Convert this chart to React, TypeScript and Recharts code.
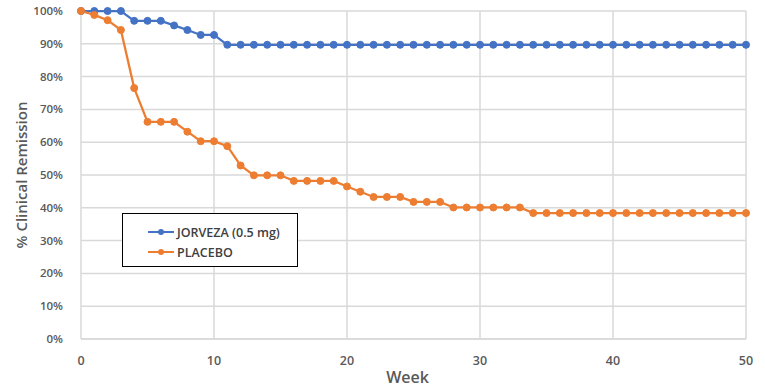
import React from "react";
import { LineChart, Line, XAxis, YAxis, CartesianGrid } from "recharts";

const weeks = Array.from({ length: 51 }, (_, i) => i);

const jorveza = [
  100, 100, 100, 100, 97, 97, 97, 95.6, 94.2, 92.7, 92.7, 89.7, 89.7, 89.7,
  89.7, 89.7, 89.7, 89.7, 89.7, 89.7, 89.7, 89.7, 89.7, 89.7, 89.7, 89.7, 89.7,
  89.7, 89.7, 89.7, 89.7, 89.7, 89.7, 89.7, 89.7, 89.7, 89.7, 89.7, 89.7, 89.7,
  89.7, 89.7, 89.7, 89.7, 89.7, 89.7, 89.7, 89.7, 89.7, 89.7, 89.7,
];

const placebo = [
  100, 98.8, 97.2, 94.2, 76.5, 66.2, 66.2, 66.2, 63.2, 60.3, 60.3, 58.8, 52.9,
  49.9, 49.9, 49.9, 48.2, 48.2, 48.2, 48.2, 46.5, 44.9, 43.3, 43.3, 43.3, 41.8,
  41.8, 41.8, 40.1, 40.1, 40.1, 40.1, 40.1, 40.1, 38.4, 38.4, 38.4, 38.4, 38.4,
  38.4, 38.4, 38.4, 38.4, 38.4, 38.4, 38.4, 38.4, 38.4, 38.4, 38.4, 38.4,
];

const xTicks = [0, 10, 20, 30, 40, 50];
const yTicks = [0, 10, 20, 30, 40, 50, 60, 70, 80, 90, 100];

const data = weeks.map((w, i) => ({
  week: w,
  jorveza: jorveza[i],
  placebo: placebo[i],
}));

const font = "'Open Sans', Lato, sans-serif";

const legendItems = [
  { label: "JORVEZA (0.5 mg)", color: "#4472C4" },
  { label: "PLACEBO", color: "#ED7D31" },
];

// legend drawn as an overlay so it doesn't eat plot height
function LegendBox() {
  return (
    <div
      style={{
        position: "absolute",
        left: 122,
        top: 213,
        width: 176,
        height: 54,
        border: "1.5px solid #000",
        background: "#fff",
        fontFamily: font,
        fontWeight: 600,
        fontSize: 12.5,
        color: "#404040",
        padding: "8px 0 0 25px",
        boxSizing: "border-box",
      }}
    >
      {legendItems.map((it) => (
        <div
          key={it.label}
          style={{ display: "flex", alignItems: "center", height: 20 }}
        >
          <svg width={26} height={10} style={{ marginRight: 3 }}>
            <line x1={0} y1={5} x2={26} y2={5} stroke={it.color} strokeWidth={2} />
            <circle cx={13} cy={5} r={3} fill={it.color} />
          </svg>
          <span>{it.label}</span>
        </div>
      ))}
    </div>
  );
}

export default function App() {
  return (
    <div
      style={{
        position: "fixed",
        left: 0,
        top: 0,
        width: 765,
        height: 392,
        background: "#fff",
      }}
    >
      <LineChart
        width={765}
        height={392}
        data={data}
        margin={{ top: 11, right: 19, bottom: 23, left: 0 }}
      >
        <CartesianGrid stroke="#d9d9d9" strokeWidth={1.5} />
        <XAxis
          dataKey="week"
          type="number"
          domain={[0, 50]}
          ticks={xTicks}
          tickLine={false}
          axisLine={{ stroke: "#d9d9d9", strokeWidth: 1.5 }}
          tick={{ fill: "#595959", fontSize: 12.5, fontWeight: 600, fontFamily: font }}
          tickMargin={11}
          label={{
            value: "Week",
            position: "insideBottom",
            offset: -14,
            dx: -6,
            fill: "#595959",
            fontSize: 16,
            fontWeight: 600,
            fontFamily: font,
          }}
        />
        <YAxis
          type="number"
          domain={[0, 100]}
          ticks={yTicks}
          width={81}
          tickLine={false}
          axisLine={false}
          tickFormatter={(v: number) => `${v}%`}
          tick={{ fill: "#595959", fontSize: 11.5, fontWeight: 600, fontFamily: font }}
          tickMargin={12}
          label={{
            value: "% Clinical Remission",
            angle: -90,
            position: "insideLeft",
            offset: 22,
            style: { textAnchor: "middle" },
            fill: "#595959",
            fontSize: 15,
            fontWeight: 600,
            fontFamily: font,
          }}
        />
        <Line
          dataKey="jorveza"
          stroke="#4472C4"
          strokeWidth={2.25}
          dot={{ r: 3.5, fill: "#4472C4", stroke: "#4472C4", strokeWidth: 1 }}
          isAnimationActive={false}
        />
        <Line
          dataKey="placebo"
          stroke="#ED7D31"
          strokeWidth={2.25}
          dot={{ r: 3.5, fill: "#ED7D31", stroke: "#ED7D31", strokeWidth: 1 }}
          isAnimationActive={false}
        />
      </LineChart>
      <LegendBox />
    </div>
  );
}
